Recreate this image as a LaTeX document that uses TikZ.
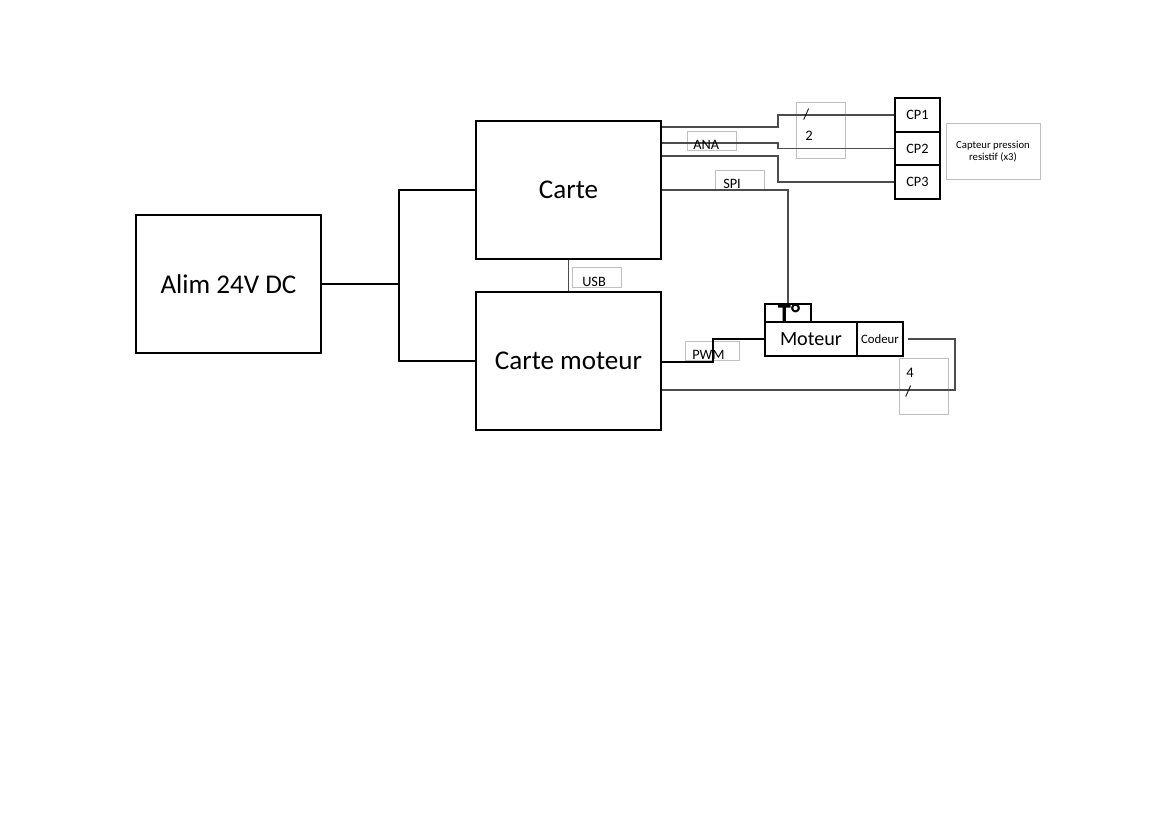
\documentclass[tikz,border=0pt]{standalone}
\usepackage{fontspec}
\setmainfont{Carlito}
\begin{document}
\begin{tikzpicture}[x=0.72pt,y=-0.72pt,
  blk/.style={draw=black,line width=0.9pt,inner sep=0pt,fill=white},
  lbl/.style={draw=black!25,line width=0.7pt,inner sep=0pt},
  wire/.style={draw=black!70,line width=0.8pt},
  txt/.style={inner sep=0pt,anchor=base west},
  small/.style={font=\fontsize{10.3}{12}\selectfont}]
\useasboundingbox (0,0) rectangle (1169,826);
% main blocks
\node[blk,minimum width=133.2pt,minimum height=99.4pt,font=\fontsize{19.5}{23}\selectfont] (alim) at (228.5,284) {Alim 24V DC};
\node[blk,minimum width=133.2pt,minimum height=99.4pt,font=\fontsize{19.5}{23}\selectfont] (carte) at (568.5,190) {Carte};
\node[blk,minimum width=133.2pt,minimum height=99.4pt,font=\fontsize{19.5}{23}\selectfont] (cm) at (568.5,361) {Carte moteur};
% sensor connectors
\node[blk,small,minimum width=32.4pt,minimum height=24.5pt] (cp1) at (917.5,115) {CP1};
\node[blk,small,minimum width=32.4pt,minimum height=23.8pt] (cp2) at (917.5,148.5) {CP2};
\node[blk,small,minimum width=32.4pt,minimum height=24.5pt] (cp3) at (917.5,182) {CP3};
\node[lbl,minimum width=67.7pt,minimum height=41pt,align=center,font=\fontsize{7.7}{9}\selectfont] (capt) at (993,151.5) {Capteur pression\\resistif (x3)};
% motor
\node[blk,minimum width=33.1pt,minimum height=13pt] (tc) at (788,313) {};
\node[inner sep=0pt,anchor=base,font=\bfseries\fontsize{19}{22}\selectfont] (tt) at (789,322) {T°};
\node[blk,minimum width=66.2pt,minimum height=24.5pt,font=\fontsize{14.5}{17}\selectfont] (mot) at (811,339) {Moteur};
\node[blk,minimum width=33.1pt,minimum height=24.5pt,font=\fontsize{9.2}{11}\selectfont] (cod) at (880,339) {Codeur};
% label boxes
\node[lbl,minimum width=35.3pt,minimum height=13pt] (anab) at (711.5,141) {};
\node[lbl,minimum width=35.3pt,minimum height=13.7pt] (spib) at (739.5,179.5) {};
\node[lbl,minimum width=34.6pt,minimum height=14.4pt] (usbb) at (597,277) {};
\node[lbl,minimum width=38.9pt,minimum height=13.7pt] (pwmb) at (712,350.5) {};
\node[lbl,minimum width=34.6pt,minimum height=41pt] (b2) at (821,130.5) {};
\node[lbl,minimum width=34.6pt,minimum height=41pt] (b4) at (924,386.5) {};
% coordinates for wire ends
\coordinate (j) at (399,284);
\coordinate (o1) at (carte.east |- 0,127);
\coordinate (o2) at (carte.east |- 0,143);
\coordinate (o3) at (carte.east |- 0,156);
\coordinate (o4) at (carte.east |- 0,190);
\coordinate (p1) at (cm.east |- 0,362);
\coordinate (p2) at (cm.east |- 0,390);
\coordinate (ce) at (908,339);
% wires
\draw[black,line width=0.9pt] (alim.east) -- (j);
\draw[black,line width=0.9pt] (carte.west) -| (j) |- (cm.west);
\draw[wire] (carte.south) -- (cm.north);
\draw[wire] (o1) -- (778,127) |- (cp1.west);
\draw[wire] (o2) -- (778,143) |- (cp2.west);
\draw[wire] (o3) -- (778,156) |- (cp3.west);
\draw[wire] (o4) -| (tc.north);
\draw[black,line width=0.9pt] (p1) -- (713,362) |- (mot.west);
\draw[wire] (ce) -- (955,339) |- (p2);
% label texts
\node[txt,small] (ana) at (693,149) {ANA};
\node[txt,small] (spi) at (723,188) {SPI};
\node[txt,small] (usb) at (582,286) {USB};
\node[txt,small] (pwm) at (692,359) {PWM};
\node[txt,font=\fontsize{11}{12}\selectfont] (s2) at (803,119) {/};
\node[txt,font=\fontsize{10.5}{12}\selectfont] (n2) at (805,140) {2};
\node[txt,font=\fontsize{10.5}{12}\selectfont] (n4) at (906,377) {4};
\node[txt,font=\fontsize{11}{12}\selectfont] (s4) at (905,396) {/};
\end{tikzpicture}
\end{document}
